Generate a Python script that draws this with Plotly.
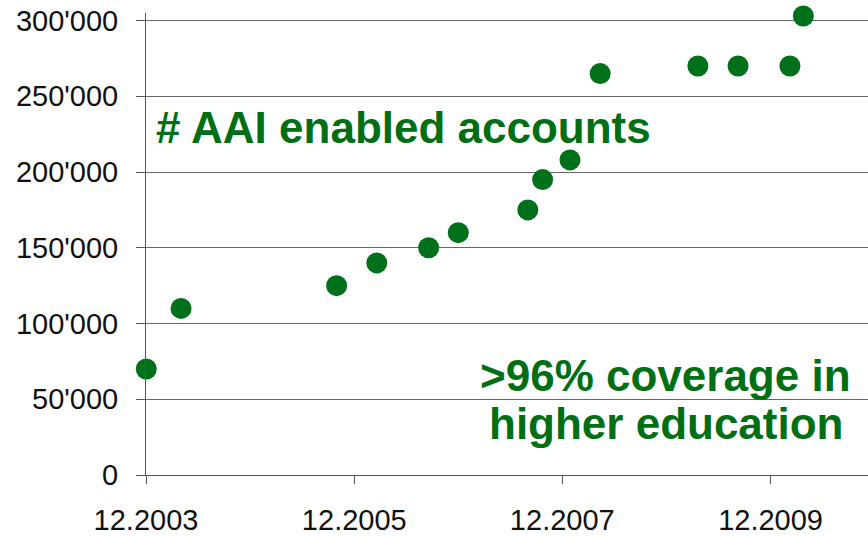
import plotly.graph_objects as go

# Data
dates = ["2003-12-02", "2004-04-02", "2005-09-30", "2006-02-18", "2006-08-19",
         "2006-12-01", "2007-08-02", "2007-09-23", "2007-12-28", "2008-04-12",
         "2009-03-21", "2009-08-09", "2010-02-07", "2010-03-26"]
accounts = [70000, 110000, 125000, 140000, 150000,
            160000, 175000, 195000, 208000, 265000,
            270000, 270000, 270000, 303000]

x_tick_vals = ["2003-12-01", "2005-12-01", "2007-12-01", "2009-12-01"]
x_tick_text = ["12.2003", "12.2005", "12.2007", "12.2009"]
y_tick_vals = [0, 50000, 100000, 150000, 200000, 250000, 300000]
y_tick_text = ["0", "50'000", "100'000", "150'000", "200'000", "250'000", "300'000"]

GREEN = "#00701a"
TEXT_GREEN = "#006f14"
AXIS = "#555555"
FONT = "Arial, Liberation Sans, sans-serif"

fig = go.Figure()
fig.add_trace(go.Scatter(
    x=dates, y=accounts, mode="markers",
    marker=dict(size=21, color=GREEN, line=dict(width=0)),
    cliponaxis=False, showlegend=False,
))

fig.update_layout(
    width=868, height=536,
    margin=dict(l=146, r=0, t=13, b=61, autoexpand=False),
    paper_bgcolor="white", plot_bgcolor="white",
    font=dict(family=FONT, size=29, color="#111111"),
    xaxis=dict(
        type="date", range=["2003-12-01", "2010-11-08"],
        tickmode="array", tickvals=x_tick_vals, ticktext=x_tick_text,
        ticks="outside", ticklen=8, tickcolor=AXIS, tickwidth=1,
        showline=True, linecolor=AXIS, linewidth=1,
        showgrid=False, zeroline=False, ticklabelstandoff=11,
        automargin=False,
    ),
    yaxis=dict(
        range=[0, 305000],
        tickmode="array", tickvals=y_tick_vals, ticktext=y_tick_text,
        ticks="outside", ticklen=9, tickcolor=AXIS, tickwidth=1,
        showline=True, linecolor=AXIS, linewidth=1,
        showgrid=True, gridcolor="#666666", gridwidth=1,
        zeroline=False, ticklabelstandoff=12, automargin=False,
    ),
)

ann_font = dict(family=FONT, size=44, color=TEXT_GREEN)
fig.add_annotation(text="<b># AAI enabled accounts</b>", xref="paper", yref="paper",
                   x=0.3566, y=0.7532, xanchor="center", yanchor="middle",
                   showarrow=False, font=ann_font)
fig.add_annotation(text="<b>>96% coverage in</b>", xref="paper", yref="paper",
                   x=0.7202, y=0.2143, xanchor="center", yanchor="middle",
                   showarrow=False, font=ann_font)
fig.add_annotation(text="<b>higher education</b>", xref="paper", yref="paper",
                   x=0.7202, y=0.1104, xanchor="center", yanchor="middle",
                   showarrow=False, font=ann_font)

fig.write_html("out.html", config={"displayModeBar": False},
               post_script="document.body.style.margin='0';document.body.style.padding='0';")
